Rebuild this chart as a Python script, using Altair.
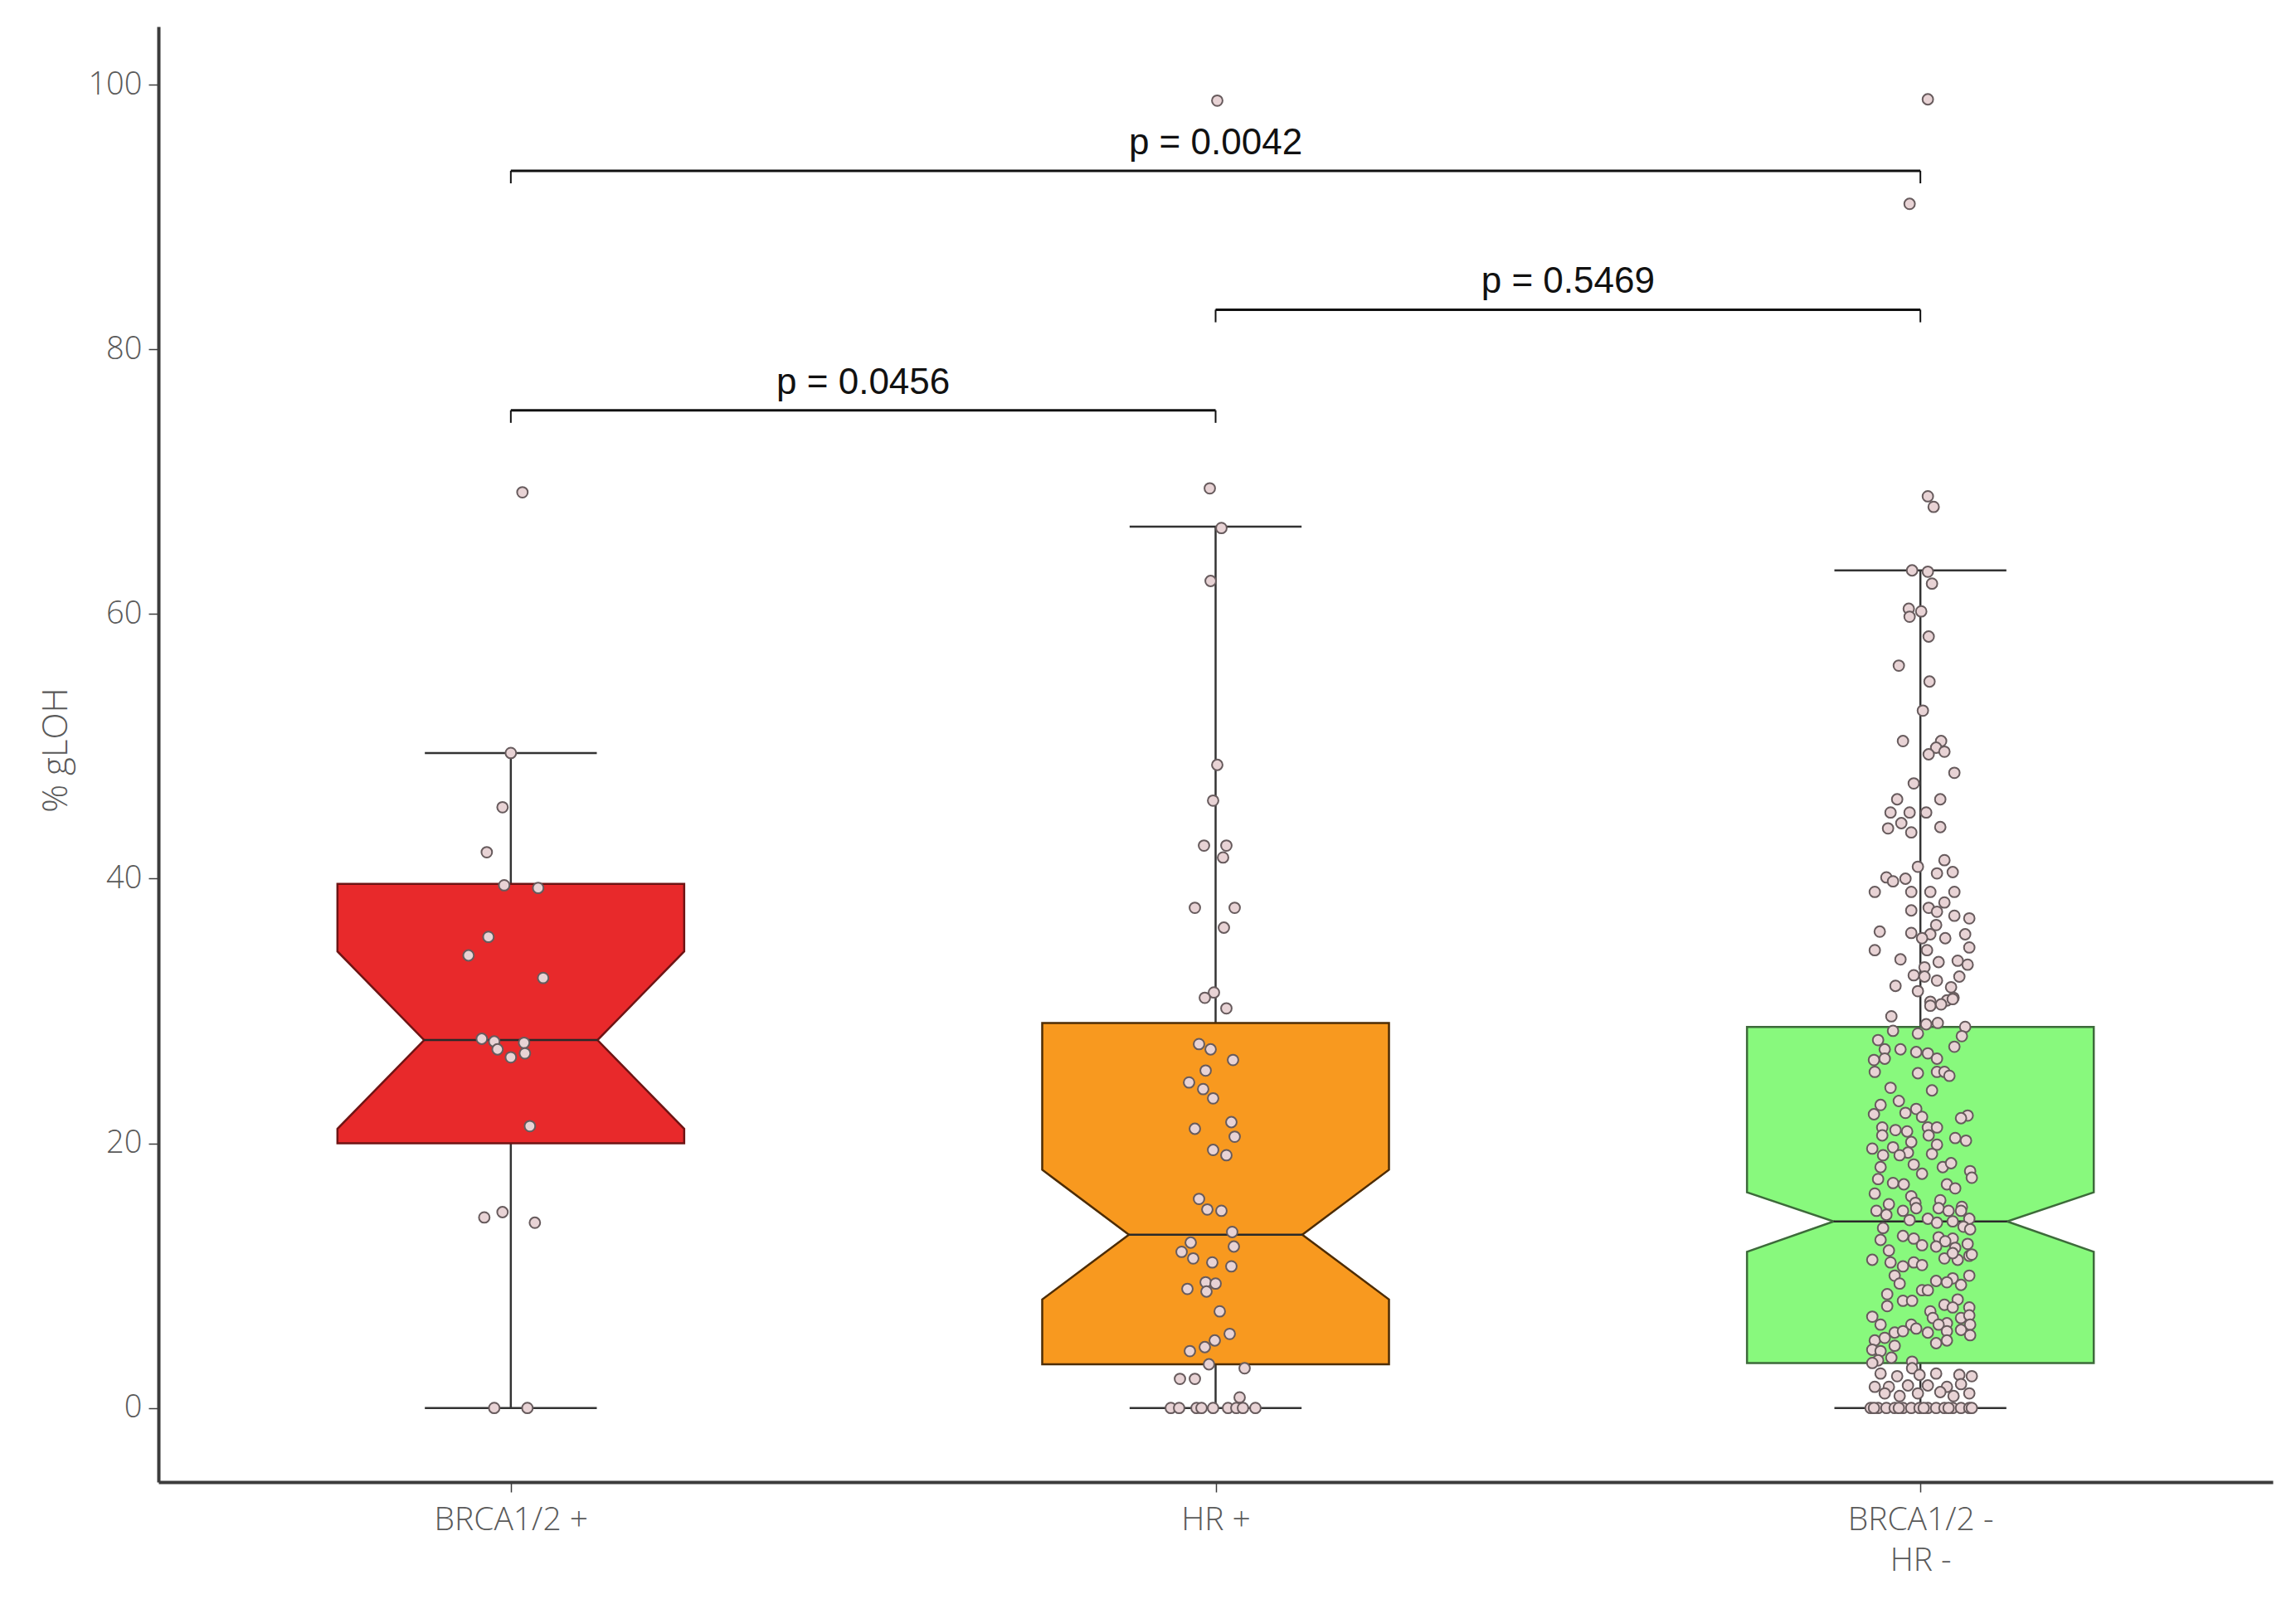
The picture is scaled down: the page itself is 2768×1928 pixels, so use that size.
import json
import altair as alt
import pandas as pd

# ---------------- data ----------------
categories = ["BRCA1/2 +", "HR +", "BRCA1/2 - HR -"]
label_lines = [["BRCA1/2 +"], ["HR +"], ["BRCA1/2 -", "HR -"]]

q1 = [20.0, 3.3, 3.4]
notch_lo = [21.1, 8.2, 11.8]
median = [27.8, 13.1, 14.1]
notch_hi = [34.5, 18.0, 16.3]
q3 = [39.6, 29.1, 28.8]
whisker_lo = [0.0, 0.0, 0.0]
whisker_hi = [49.5, 66.6, 63.3]

# comparisons (left group, right group, bracket level, label)
cmp_left = [0, 1, 0]
cmp_right = [1, 2, 2]
cmp_level = [75.4, 83.0, 93.5]
cmp_label = ["p = 0.0456", "p = 0.5469", "p = 0.0042"]

# points: (value, horizontal jitter in 1/850 of a category width)
brca_pos_pts = [
    (69.2, 14), (49.5, 0), (45.4, -10), (42.0, -29), (39.5, -8), (39.3, 33),
    (35.6, -27), (34.2, -51), (32.5, 39), (27.9, -35), (27.7, -20), (27.6, 16),
    (27.1, -16), (26.8, 17), (26.5, 0), (21.3, 23), (14.8, -10), (14.4, -32),
    (14.0, 29), (0.0, -20), (0.0, 20),
]

hr_pos_pts = [
    (98.8, 2), (69.5, -7), (66.5, 7), (62.5, -6), (48.6, 2), (45.9, -3),
    (42.5, -14), (42.5, 13), (41.6, 9), (37.8, -25), (37.8, 23), (36.3, 10),
    (31.4, -2), (31.0, -13), (30.2, 13), (27.5, -20), (27.1, -6), (26.3, 21),
    (25.5, -12), (24.6, -32), (24.1, -15), (23.4, -3), (21.1, -25), (21.6, 19),
    (20.5, 23), (19.5, -3), (19.1, 13), (15.8, -20), (15.0, -10), (14.9, 7),
    (13.3, 20), (12.5, -30), (12.2, 22), (11.8, -41), (11.3, -27), (11.0, -4),
    (10.7, 19), (9.5, -12), (9.4, 0), (9.0, -34), (8.8, -11), (7.3, 5),
    (5.6, 17), (5.1, -1), (4.6, -13), (4.3, -31), (3.3, -8), (3.0, 35),
    (2.2, -43), (2.2, -25), (0.8, 29), (0.0, -54), (0.0, -44), (0.0, -23),
    (0.0, -17), (0.0, -3), (0.0, 15), (0.0, 25), (0.0, 33), (0.0, 48),
]

neg_pts = [
    (98.9, 9), (91.0, -13), (68.9, 9), (68.1, 16),
    (63.3, -10), (63.2, 9), (62.3, 14), (60.4, -14), (59.8, -13), (60.2, 1),
    (58.3, 10), (56.1, -26), (54.9, 11), (52.7, 3), (50.4, -21), (50.4, 25),
    (49.9, 19), (49.6, 29), (49.4, 10), (48.0, 41),
    (47.2, -8), (46.0, -28), (46.0, 24), (45.0, -36), (45.0, -13), (45.0, 7),
    (44.2, -23), (43.8, -39), (43.5, -11), (43.9, 24), (40.9, -3), (41.4, 29),
    (40.4, 20), (40.5, 39), (40.1, -41), (39.8, -33), (40.0, -18), (39.0, -55),
    (39.0, -11), (39.0, 12), (39.0, 41), (38.2, 29), (37.8, 10), (37.5, 20),
    (37.6, -11), (37.2, 41), (37.0, 59), (36.5, 19), (36.0, -49), (35.9, -11),
    (35.8, 12), (35.5, 30), (35.8, 54), (35.5, 2), (34.6, -55), (34.8, 59),
    (34.6, 8), (33.9, -24), (33.7, 22), (33.8, 45), (33.5, 57), (33.3, 5),
    (32.7, -8), (32.6, 5), (32.3, 20), (32.6, 47), (31.9, -30), (31.5, -3),
    (31.8, 37), (30.7, 12), (30.8, 32), (31.0, 40),
    (30.4, 12), (30.5, 25), (30.9, 39), (29.6, -35), (29.0, 7), (29.1, 21),
    (28.8, 54), (28.5, -33), (28.3, -3), (28.1, 50), (27.8, -51), (27.1, -43),
    (27.1, -24), (26.9, -5), (26.8, 9), (27.3, 41), (26.4, 20), (26.3, -56),
    (26.4, -43), (25.4, -55), (25.3, -3), (25.4, 20), (25.4, 29), (25.1, 35),
    (24.2, -36), (24.0, 14), (23.2, -26), (22.9, -48), (22.2, -56), (22.6, -5),
    (22.3, -18), (22.0, 2), (22.1, 57), (21.9, 49), (21.2, -46), (21.0, -30),
    (20.9, -16), (21.2, 9), (21.2, 20), (20.6, -46), (20.6, 10), (20.4, 42),
    (20.2, 55), (20.1, -11), (19.9, 20), (19.6, -58), (19.7, -33), (19.1, -45),
    (19.3, -15), (19.2, 14), (19.1, -25), (18.2, -48), (18.4, -8), (18.2, 27),
    (18.5, 37), (17.7, 2), (17.9, 60), (17.4, 62), (17.3, -51), (17.0, -33),
    (16.9, -20), (16.9, 32), (16.6, 42), (16.2, -55), (16.0, -11), (15.4, -38),
    (15.7, 24), (15.5, -6), (15.2, 50),
    (14.9, -53), (14.6, -41), (14.9, -21), (15.1, -5), (15.1, 22), (14.9, 34),
    (14.9, 49), (14.3, 59), (14.3, 9), (14.0, 20), (14.2, -13), (14.1, 39),
    (13.7, 52), (13.5, 60), (13.6, -45),
    (13.0, -21), (12.8, -8), (12.3, 2), (12.7, -48), (12.9, 22), (12.8, 39),
    (12.6, 30), (12.2, 19), (12.1, 42), (12.4, 57),
    (11.9, -38), (11.2, -58), (11.0, -36), (10.7, -21), (11.0, -8), (10.8, 2),
    (11.3, 29), (11.2, 45), (11.5, 59), (11.7, 39), (11.6, 62),
    (10.0, -31), (9.6, 19), (9.8, 39), (10.0, 59), (9.4, -25), (8.9, 2),
    (9.3, 49), (9.5, 32), (8.6, -40), (8.9, 9),
    (8.1, -21), (8.1, -10), (7.7, -40), (7.8, 29), (8.2, 45), (7.6, 59),
    (7.3, 12), (7.6, 39),
    (6.9, -58), (6.3, -48), (6.3, -11), (6.8, 15), (6.4, 32), (6.8, 49),
    (7.0, 59), (6.3, 60), (6.3, 22),
    (5.7, -31), (5.8, -21), (6.0, -5), (5.7, 9), (5.8, 32), (5.9, 49),
    (5.5, 60), (4.9, 19), (5.1, 32), (5.1, -55), (5.3, -43),
    (4.4, -58), (4.3, -48), (4.7, -31), (3.6, -51), (3.8, -35), (3.5, -10),
    (3.4, -58),
    (3.0, -10), (2.6, -48), (2.4, -28), (2.5, -1), (2.6, 19), (2.5, 47),
    (2.4, 62), (1.6, -55), (1.6, -38), (1.7, -15), (1.7, 9), (1.6, 32),
    (1.8, 49), (1.1, -43), (0.9, -25), (1.1, -3), (1.2, 24), (0.9, 40),
    (1.1, 59),
    (0.0, -60), (0.0, -51), (0.0, -41), (0.0, -31), (0.0, -21), (0.0, -11),
    (0.0, -1), (0.0, 9), (0.0, 19), (0.0, 29), (0.0, 39), (0.0, 49),
    (0.0, 59), (0.0, 62), (0.0, -56), (0.0, -26), (0.0, 4), (0.0, 34),
]

# ---------------- styling constants ----------------
BOX_HALF = 0.246
NOTCH_HALF = 0.123
CAP_HALF = 0.122
JITTER_UNIT = 850.0

box_fill = ["#e8292b", "#f8991f", "#88f97d"]
box_stroke = ["#6e1414", "#4d2c05", "#3d6a3a"]
LINE_DARK = "#333333"
AXIS_DARK = "#3c3c3c"
LABEL_GREY = "#5a5a5a"

# ---------------- derived tables ----------------
stats_rows = []
box_rows = []
for i, cat in enumerate(categories):
    cx = i + 0.5
    stats_rows.append(dict(group=cat, cx=cx, lo=whisker_lo[i], hi=whisker_hi[i],
                           capl=cx - CAP_HALF, capr=cx + CAP_HALF,
                           nl=cx - NOTCH_HALF, nr=cx + NOTCH_HALF, med=median[i]))
    shape = [(q1[i], BOX_HALF), (notch_lo[i], BOX_HALF), (median[i], NOTCH_HALF),
             (notch_hi[i], BOX_HALF), (q3[i], BOX_HALF)]
    for k, (yv, hw) in enumerate(shape):
        box_rows.append(dict(group=cat, k=k, y=yv, xl=cx - hw, xr=cx + hw))
stats = pd.DataFrame(stats_rows)
boxes_df = pd.DataFrame(box_rows)

pt_rows = []
for i, pts in enumerate([brca_pos_pts, hr_pos_pts, neg_pts]):
    for v, j in pts:
        pt_rows.append(dict(group=categories[i], v=v, px=i + 0.5 + j / JITTER_UNIT))
points_df = pd.DataFrame(pt_rows)

br_rows = []
drop_rows = []
for a, b, lvl, lab in zip(cmp_left, cmp_right, cmp_level, cmp_label):
    xa, xb = a + 0.5, b + 0.5
    br_rows.append(dict(xa=xa, xb=xb, xm=(xa + xb) / 2, lvl=lvl, label=lab))
    for xx in (xa, xb):
        drop_rows.append(dict(x=xx, top=lvl, bot=lvl - 0.95))
br_df = pd.DataFrame(br_rows)
drop_df = pd.DataFrame(drop_rows)

# ---------------- scales & axes ----------------
xscale = alt.Scale(domain=[0, 3], nice=False, zero=False)
yscale = alt.Scale(domain=[-5.6, 104.4], nice=False, zero=False)

label_expr = json.dumps(label_lines) + "[floor(datum.value)]"

xaxis = alt.Axis(title=None, values=[0.5, 1.5, 2.5], labelExpr=label_expr, grid=False,
                 domainColor=AXIS_DARK, domainWidth=4, tickColor=AXIS_DARK,
                 tickWidth=1.5, tickSize=12, labelFont="Open Sans", labelFontSize=39,
                 labelFontWeight=300, labelColor=LABEL_GREY, labelPadding=14,
                 labelLineHeight=49, labelLimit=0,
                 labelOverlap=False, labelBound=False, labelFlush=False)
yaxis = alt.Axis(title="% gLOH", values=[0, 20, 40, 60, 80, 100], format="d", grid=False,
                 domainColor=AXIS_DARK, domainWidth=4, tickColor=AXIS_DARK,
                 tickWidth=1.5, tickSize=12, labelFont="Open Sans", labelFontSize=38,
                 labelFontWeight=300, labelColor=LABEL_GREY, labelPadding=8, labelLimit=0,
                 titleFont="Open Sans", titleFontSize=42, titleFontWeight=300,
                 titleColor=LABEL_GREY, titleAngle=-90, titleAlign="center",
                 titleBaseline="middle", titleX=-124, titleY=872)


def X(field):
    return alt.X(field, type="quantitative", scale=xscale, axis=xaxis)


def Y(field):
    return alt.Y(field, type="quantitative", scale=yscale, axis=yaxis)


# ---------------- layers ----------------
whiskers = alt.Chart(stats).mark_rule(color=LINE_DARK, strokeWidth=2.5).encode(
    x=X("cx"), y=Y("lo"), y2="hi:Q")
caps_lo = alt.Chart(stats).mark_rule(color=LINE_DARK, strokeWidth=2.5).encode(
    x=X("capl"), x2="capr:Q", y=Y("lo"))
caps_hi = alt.Chart(stats).mark_rule(color=LINE_DARK, strokeWidth=2.5).encode(
    x=X("capl"), x2="capr:Q", y=Y("hi"))

boxes = alt.Chart(boxes_df).mark_area(orient="horizontal", strokeWidth=2.5,
                                      opacity=1).encode(
    y=Y("y"),
    x=X("xl"),
    x2="xr:Q",
    detail="group:N",
    fill=alt.Fill("group:N", scale=alt.Scale(domain=categories, range=box_fill), legend=None),
    stroke=alt.Stroke("group:N", scale=alt.Scale(domain=categories, range=box_stroke), legend=None),
)
medians = alt.Chart(stats).mark_rule(color="#2a2a2a", strokeWidth=2.5).encode(
    x=X("nl"), x2="nr:Q", y=Y("med"))

points = alt.Chart(points_df).mark_circle(size=165, fill="#e8d3d5", stroke="#675b5d",
                                          strokeWidth=2, opacity=1).encode(
    x=X("px"), y=Y("v"))

br_lines = alt.Chart(br_df).mark_rule(color="#111111", strokeWidth=3).encode(
    x=X("xa"), x2="xb:Q", y=Y("lvl"))
br_drops = alt.Chart(drop_df).mark_rule(color="#111111", strokeWidth=2).encode(
    x=X("x"), y=Y("top"), y2="bot:Q")
br_text = alt.Chart(br_df).mark_text(font="Liberation Sans", fontSize=44, color="#111111",
                                     baseline="alphabetic", align="center", dy=-20).encode(
    x=X("xm"), y=Y("lvl"), text="label:N")

chart = alt.layer(
    whiskers, caps_lo, caps_hi, boxes, medians, points, br_lines, br_drops, br_text
).properties(
    width=2549, height=1755,
    padding={"left": 183, "top": 24, "right": 20, "bottom": 133},
    autosize=alt.AutoSizeParams(type="none"),
).configure_view(stroke=None).configure_axis(grid=False)

chart.save("out.html", embed_options={"renderer": "svg", "actions": False})
